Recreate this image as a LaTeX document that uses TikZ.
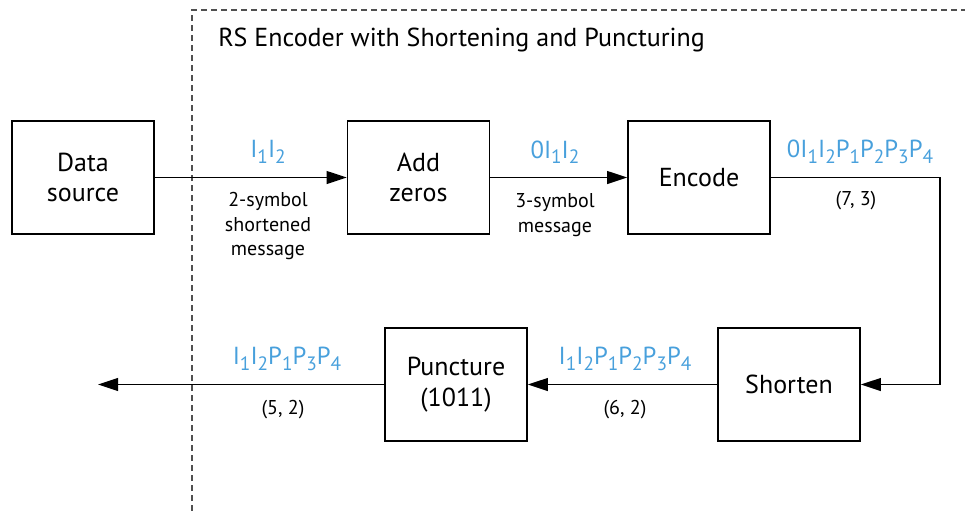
\documentclass[tikz,border=0pt]{standalone}
\usepackage{fontspec}
\setmainfont{PT Sans}
\definecolor{symblue}{RGB}{72,160,220}
\definecolor{framegray}{RGB}{80,80,80}
\usepackage{tikz}
\usetikzlibrary{arrows.meta,positioning,calc}
\newcommand{\lo}[1]{\raisebox{-0.45ex}{\fontsize{14.5}{14.5}\selectfont #1}}

\begin{document}
\begin{tikzpicture}[x=0.75pt, y=-0.75pt,
    block/.style={rectangle, draw=black, line width=1.2pt, minimum width=106.5pt,
                  minimum height=84.75pt, align=center,
                  font=\fontsize{19.5}{23}\selectfont},
    arrow/.style={-{Triangle[length=15pt,width=9.5pt]}, line width=1.4pt},
    symbols/.style={text=symblue, font=\fontsize{18.5}{20}\selectfont},
    note/.style={align=center, font=\fontsize{15}{18.5}\selectfont}]

\useasboundingbox (0,0) rectangle (965,511);

% encoder frame
\coordinate (frametop) at (192,10);
\draw[framegray, line width=1.1pt, dash pattern=on 4.5pt off 3pt]
    (192,511) -- (frametop) -- (965,10);
\node[anchor=west, font=\fontsize{19.5}{22}\selectfont, inner sep=0pt] (title) at (218,40)
    {RS Encoder with Shortening and Puncturing};

\node[block] (source) at (83,177.5) {Data\\source};
\node[block] (zeros) at (418.5,177.5) {Add\\zeros};
\node[block] (encode) at (699,177.5) {Encode};
\node[block] (shorten) at (789,384.5) {Shorten};
\node[block] (puncture) at (456,384.5) {Puncture\\(1011)};
\coordinate (turn) at (940,384.5);
\coordinate (out) at (98,384.5);

\draw[arrow] (source) -- (zeros);
\draw[arrow] (zeros) -- (encode);
\draw[arrow] (encode.east) -| (turn) -- (shorten.east);
\draw[arrow] (shorten) -- (puncture);
\draw[arrow] (puncture) -- (out);

% symbol labels
\node[symbols] (msg1) at (268,152) {I\lo{1}I\lo{2}};
\node[symbols] (msg2) at (555,152) {0I\lo{1}I\lo{2}};
\node[symbols] (msg3) at (860,152) {0I\lo{1}I\lo{2}P\lo{1}P\lo{2}P\lo{3}P\lo{4}};
\node[symbols] (msg4) at (625,359) {I\lo{1}I\lo{2}P\lo{1}P\lo{2}P\lo{3}P\lo{4}};
\node[symbols] (msg5) at (287,359) {I\lo{1}I\lo{2}P\lo{1}P\lo{3}P\lo{4}};

% notes under the arrows
\node[note] (note1) at (268,226) {2-symbol\\shortened\\message};
\node[note] (note2) at (555,215) {3-symbol\\message};
\node[note] (note3) at (856,201) {(7, 3)};
\node[note] (note4) at (625,410) {(6, 2)};
\node[note] (note5) at (283,410) {(5, 2)};
\end{tikzpicture}
\end{document}
